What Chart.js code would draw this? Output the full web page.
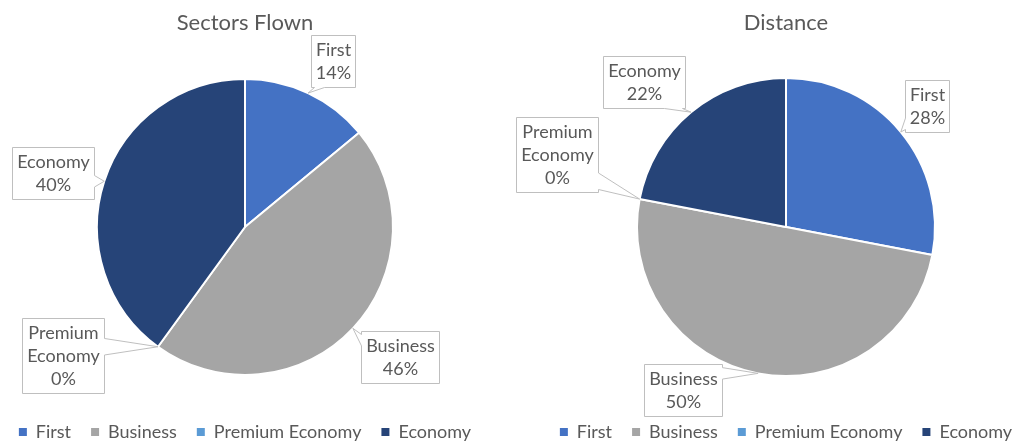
<!DOCTYPE html>
<html>
<head>
<meta charset="utf-8">
<script src="https://cdn.jsdelivr.net/npm/chart.js@4.4.1/dist/chart.umd.min.js"></script>
<style>
  html, body { margin: 0; padding: 0; background: #fff; }
  #wrap { position: relative; width: 1023px; height: 447px; overflow: hidden; }
  .pane { position: absolute; top: 0; width: 560px; height: 451px; }
</style>
</head>
<body>
<div id="wrap">
  <div class="pane" style="left:-35px"><canvas id="sectorsChart"></canvas></div>
  <div class="pane" style="left:506px"><canvas id="distanceChart"></canvas></div>
</div>
<script>
const categories = ["First", "Business", "Premium Economy", "Economy"];
const sectorsShare = [14, 46, 0, 40];
const distanceShare = [28, 50, 0, 22];
const sliceColors = ["#4472C4", "#A5A5A5", "#5B9BD5", "#264478"];

// where each callout box sits (offset of its centre from the pie centre)
// and which side of the box the pointer comes out of
const sectorsCallouts = [
  { dx: 88, dy: -166, side: "bottom" },
  { dx: 155, dy: 130, side: "left" },
  { dx: -182, dy: 128, side: "right" },
  { dx: -192, dy: -54, side: "right" },
];
const distanceCallouts = [
  { dx: 141, dy: -121, side: "left" },
  { dx: -103, dy: 163, side: "right" },
  { dx: -229, dy: -73, side: "right" },
  { dx: -142, dy: -145, side: "bottom" },
];

const textColor = "#595959";
const labelFont = "18px Lato";
Chart.defaults.font.family = "Lato";

const calloutPlugin = {
  id: "callouts",
  afterDatasetsDraw(chart, args, opts) {
    const ctx = chart.ctx;
    const meta = chart.getDatasetMeta(0);
    const values = chart.data.datasets[0].data;
    const total = values.reduce((a, b) => a + b, 0);
    ctx.save();
    ctx.font = labelFont;
    meta.data.forEach((arc, i) => {
      const c = opts.boxes[i];
      const { x, y, startAngle, endAngle, outerRadius } = arc.getProps(
        ["x", "y", "startAngle", "endAngle", "outerRadius"], true);
      const mid = (startAngle + endAngle) / 2;
      const ax = x + Math.cos(mid) * outerRadius;
      const ay = y + Math.sin(mid) * outerRadius;

      const lines = chart.data.labels[i].split(" ");
      lines.push(Math.round((values[i] / total) * 100) + "%");
      const w = Math.round(Math.max(...lines.map((t) => ctx.measureText(t).width)) + 9);
      const h = lines.length * 23 + 6;
      const L = Math.round(x + c.dx - w / 2) + 0.5;
      const T = Math.round(y + c.dy - h / 2) + 0.5;
      const R = L + w, B = T + h;

      const corners = {
        top: [[L, T], [R, T]],
        right: [[R, T], [R, B]],
        bottom: [[R, B], [L, B]],
        left: [[L, B], [L, T]],
      };
      const pts = [];
      ["top", "right", "bottom", "left"].forEach((s) => {
        const a = corners[s][0];
        pts.push(a);
        if (s !== c.side) return;
        const horiz = s === "top" || s === "bottom";
        const len = horiz ? w : h;
        const lo = horiz ? L : T;
        const bw = Math.max(10, len * 0.22);
        const proj = horiz ? ax : ay;
        const m = Math.min(Math.max(proj, lo + bw / 2 + 3), lo + len - bw / 2 - 3);
        const order = s === "top" || s === "right" ? [m - bw / 2, m + bw / 2] : [m + bw / 2, m - bw / 2];
        const at = (v) => (horiz ? [v, a[1]] : [a[0], v]);
        pts.push(at(order[0]), [ax, ay], at(order[1]));
      });

      ctx.beginPath();
      ctx.moveTo(pts[0][0], pts[0][1]);
      pts.slice(1).forEach((p) => ctx.lineTo(p[0], p[1]));
      ctx.closePath();
      ctx.fillStyle = "#ffffff";
      ctx.fill();
      ctx.lineWidth = 1;
      ctx.strokeStyle = "#BFBFBF";
      ctx.stroke();

      ctx.fillStyle = textColor;
      ctx.textAlign = "center";
      ctx.textBaseline = "middle";
      lines.forEach((t, k) => {
        ctx.fillText(t, (L + R) / 2, T + 3 + 23 * k + 12);
      });
    });
    ctx.restore();
  },
};

const makePie = (id, title, values, callouts, radius) =>
  new Chart(document.getElementById(id), {
    type: "pie",
    data: {
      labels: categories,
      datasets: [
        {
          data: values,
          backgroundColor: sliceColors,
          borderColor: "#ffffff",
          borderWidth: 2,
        },
      ],
    },
    options: {
      responsive: true,
      maintainAspectRatio: false,
      animation: false,
      radius: radius,
      layout: { padding: 0 },
      plugins: {
        tooltip: { enabled: false },
        title: {
          display: true,
          text: title,
          color: textColor,
          font: { family: "Lato", size: 22, weight: "normal" },
          padding: { top: 10, bottom: 14.6 },
        },
        legend: {
          position: "bottom",
          labels: {
            boxWidth: 8,
            boxHeight: 8,
            padding: 20,
            color: textColor,
            font: { family: "Lato", size: 18 },
            generateLabels: (chart) =>
              Chart.overrides.doughnut.plugins.legend.labels
                .generateLabels(chart)
                .map((item) => ({ ...item, lineWidth: 0 })),
          },
        },
        callouts: { boxes: callouts },
      },
    },
    plugins: [calloutPlugin],
  });

const sectorsChart = makePie("sectorsChart", "Sectors Flown", sectorsShare, sectorsCallouts, 148);
const distanceChart = makePie("distanceChart", "Distance", distanceShare, distanceCallouts, 149);
</script>
</body>
</html>
